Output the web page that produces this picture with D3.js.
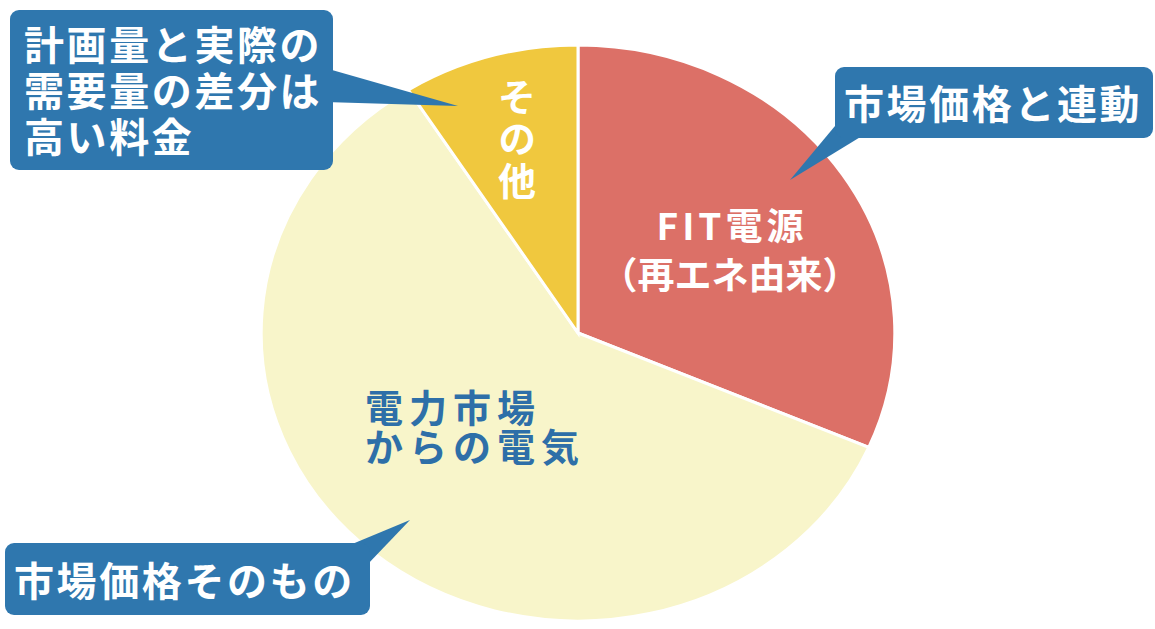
<!DOCTYPE html>
<html>
<head>
<meta charset="utf-8">
<script src="https://cdn.jsdelivr.net/npm/d3@7"></script>
<style>
  body { margin: 0; background: #fff; }
  svg text { font-family: "Noto Sans CJK JP", "Noto Sans", sans-serif; font-weight: 700; }
</style>
</head>
<body>
<svg id="chart" width="1155" height="629"></svg>
<script>
// slices, clockwise from 12 o'clock
const categories = ["FIT電源", "電力市場からの電気", "その他"];
const shares = [31.5, 59.5, 9];
const sliceColors = ["#dc7067", "#f8f5ca", "#f0c83e"];

// in-slice labels
const fitLabel = ["FIT電源", "（再エネ由来）"];
const marketLabel = ["電力市場", "からの電気"];
const otherLabel = "その他";

// callout bubbles
const calloutTop = ["計画量と実際の", "需要量の差分は", "高い料金"];
const calloutRight = ["市場価格と連動"];
const calloutBottom = ["市場価格そのもの"];

const blue = "#2f77ae";

let svg = d3.select("#chart");

// pie is slightly wider than tall in the original
let cx = 578, cy = 333, r = 288, sx = 1.1;

let pie = d3.pie().sort(null).value(d => d);
let arc = d3.arc().innerRadius(0).outerRadius(r);

let g = svg.append("g").attr("transform", `translate(${cx},${cy}) scale(${sx},1)`);
g.selectAll("path")
  .data(pie(shares))
  .enter()
  .append("path")
    .attr("d", arc)
    .attr("fill", (d, i) => sliceColors[i])
    .attr("stroke", "#fff")
    .attr("stroke-width", 3)
    .attr("vector-effect", "non-scaling-stroke");

// FIT label
svg.append("text")
  .attr("x", 732).attr("y", 240)
  .attr("text-anchor", "middle")
  .attr("font-size", 37)
  .attr("letter-spacing", 4)
  .attr("fill", "#fff")
  .text(fitLabel[0]);
svg.append("text")
  .attr("x", 730).attr("y", 289)
  .attr("text-anchor", "middle")
  .attr("font-size", 37)
  .attr("fill", "#fff")
  .text(fitLabel[1]);

// market label
let mkt = svg.append("text")
  .attr("font-size", 38)
  .attr("letter-spacing", 6)
  .attr("fill", "#2e6fa8");
mkt.selectAll("tspan")
  .data(marketLabel)
  .enter()
  .append("tspan")
    .attr("x", 365)
    .attr("y", (d, i) => 422 + i * 39)
    .text(d => d);

// other label, vertical
svg.append("text")
  .attr("x", 517).attr("y", 78)
  .attr("font-size", 38)
  .attr("letter-spacing", 4)
  .attr("fill", "#fff")
  .style("writing-mode", "vertical-rl")
  .text(otherLabel);

// bubble = rounded box + pointer triangle
function bubble(box, pointer, lines, tx, ty, lh) {
  let b = svg.append("g");
  b.append("path")
    .attr("d", d3.line()(pointer) + "Z")
    .attr("fill", blue);
  b.append("rect")
    .attr("x", box[0]).attr("y", box[1])
    .attr("width", box[2]).attr("height", box[3])
    .attr("rx", 9)
    .attr("fill", blue);
  let t = b.append("text")
    .attr("font-size", 40)
    .attr("letter-spacing", 2.6)
    .attr("fill", "#fff");
  t.selectAll("tspan")
    .data(lines)
    .enter()
    .append("tspan")
      .attr("x", tx)
      .attr("y", (d, i) => ty + i * lh)
      .text(d => d);
}

bubble([10, 10, 323, 160], [[325, 68], [458, 106], [325, 102]], calloutTop, 24, 60, 46);
bubble([835, 67, 318, 71], [[840, 120], [790, 180], [862, 136]], calloutRight, 844, 119, 0);
bubble([5, 543, 365, 72], [[345, 547], [410, 520], [366, 566]], calloutBottom, 14, 596, 0);
</script>
</body>
</html>
